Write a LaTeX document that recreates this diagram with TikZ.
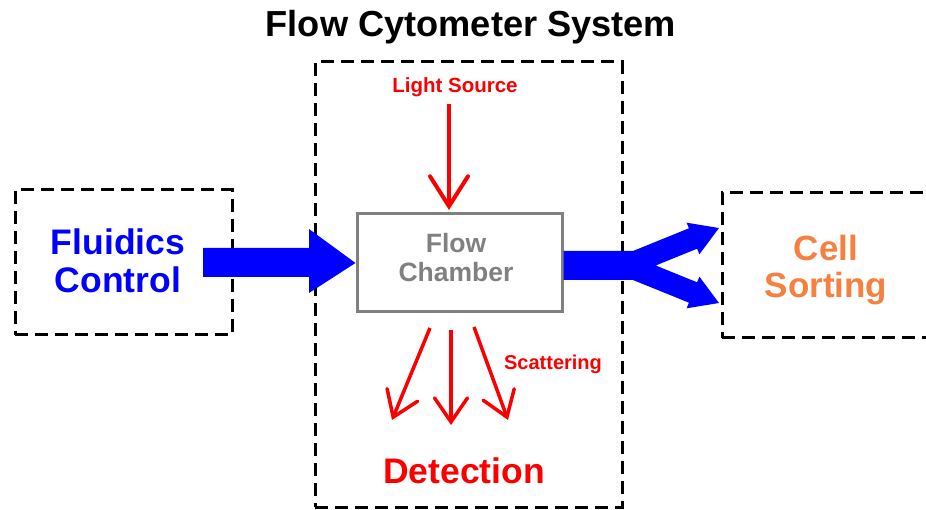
\documentclass[tikz,border=0pt]{standalone}
\usepackage{fontspec}
\setmainfont{Liberation Sans}
\usetikzlibrary{arrows.meta}
\definecolor{fblue}{RGB}{0,0,255}
\definecolor{fred}{RGB}{250,0,0}
\definecolor{forange}{RGB}{245,128,64}
\definecolor{fgray}{RGB}{128,128,128}
\newcommand\myfs[2]{\fontsize{#1}{#2}\selectfont\bfseries}
\begin{document}
\begin{tikzpicture}[x=1pt,y=-1pt,
  dashbox/.style={draw=black,line width=3pt,dash pattern=on 13pt off 7pt,inner sep=0pt},
  lbl/.style={inner sep=0pt,align=center},
  redarrow/.style={draw=fred,line width=3.5pt,-{Straight Barb[length=24pt,width=33pt,line cap=round]}},
  bigred/.style={draw=fred,line width=4pt,-{Straight Barb[length=30pt,width=38pt,line cap=round]}},
  bluefill/.style={fill=fblue,draw=none}]
\useasboundingbox (0,0) rectangle (926,510);
\clip (0,0) rectangle (926,510);

% title
\node[lbl,anchor=base,font=\myfs{36.2}{40}] (title) at (471,37) {Flow Cytometer System};

% boxes
\node[dashbox,minimum width=217pt,minimum height=145pt] (fluidbox) at (123.5,262.5) {};
\node[dashbox,minimum width=307pt,minimum height=445pt] (sysbox) at (468.5,284.5) {};
\node[dashbox,minimum width=228pt,minimum height=145pt] (sortbox) at (836,265.5) {};
\node[draw=fgray,line width=3pt,minimum width=205pt,minimum height=98pt,inner sep=0pt] (chamber) at (459.5,263) {};

% texts
\node[lbl,text=fblue,font=\myfs{35.5}{38}] (fluid) at (118,261) {Fluidics\\Control};
\node[lbl,text=forange,font=\myfs{35}{37}] (sort) at (826,270) {Cell\\Sorting};
\node[lbl,text=fgray,font=\myfs{26.5}{29}] (chambertext) at (456,258) {Flow\\Chamber};
\node[lbl,text=fred,anchor=base,font=\myfs{20.5}{22}] (light) at (455,93) {Light Source};
\node[lbl,text=fred,anchor=base,font=\myfs{20}{22}] (scatter) at (553,370) {Scattering};
\node[lbl,text=fred,anchor=base,font=\myfs{35.5}{38}] (detect) at (464,483) {Detection};

% light source arrow
\coordinate (ls0) at (449,104);
\coordinate (ls1) at (449,210);
\draw[bigred] (ls0) -- (ls1);

% scattering arrows
\coordinate (sa0) at (430,328);
\coordinate (sa1) at (392,420);
\coordinate (sb0) at (451,330);
\coordinate (sb1) at (451,425);
\coordinate (sc0) at (474,327);
\coordinate (sc1) at (508,420);
\draw[redarrow] (sa0) -- (sa1);
\draw[redarrow] (sb0) -- (sb1);
\draw[redarrow] (sc0) -- (sc1);

% blue input arrow
\fill[bluefill] (203,248) -- (309,248) -- (309,229) -- (chamber.west) -- (309,293) -- (309,277) -- (203,277) -- cycle;

% blue split output arrow
\fill[bluefill] (chamber.east |- 0,251) -- (633,251) -- (688.9,228.3) -- (686.6,222.7) -- (719,228)
  -- (699.4,254.3) -- (697.1,248.7) -- (655.7,265.5) -- (697.1,282.3) -- (699.4,276.7)
  -- (719,303) -- (686.6,308.3) -- (688.9,302.7) -- (633,280) -- (chamber.east |- 0,280) -- cycle;
\end{tikzpicture}
\end{document}
